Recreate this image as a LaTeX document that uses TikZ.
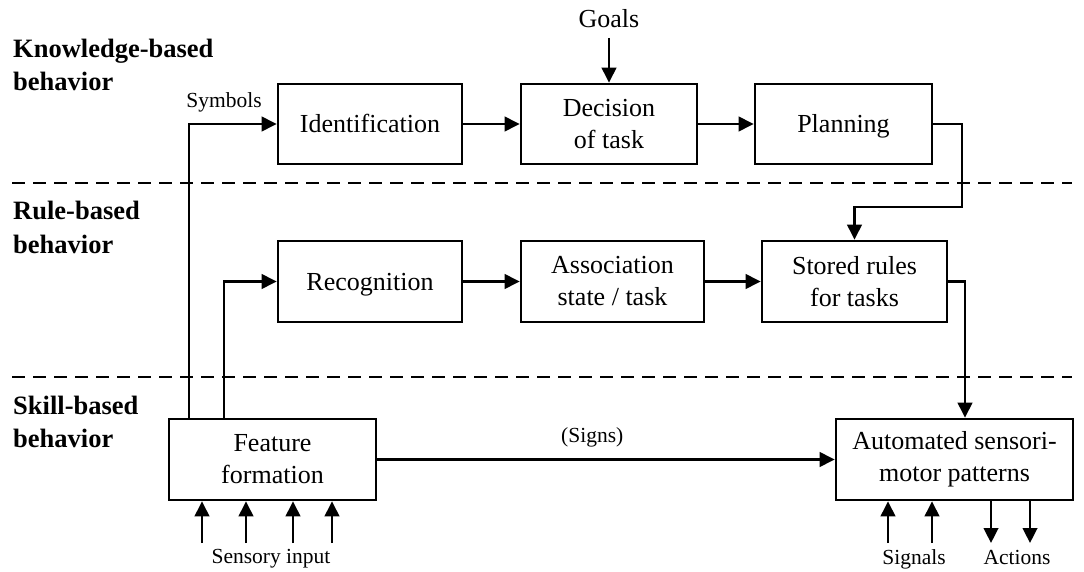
\documentclass[tikz,border=0pt]{standalone}
\usepackage{fontspec}
\setmainfont{Liberation Serif}
\usetikzlibrary{arrows.meta}

\tikzset{
  box/.style={draw, line width=2.7pt, rectangle, align=center, inner sep=0pt,
              font=\fontsize{26}{32}\selectfont},
  oneline/.style={text height=18pt, text depth=0pt},
  arr/.style={line width=2.6pt, -{Triangle[length=15pt,width=14.5pt]}},
  level/.style={font=\fontsize{26.5}{33}\selectfont\bfseries, align=left, anchor=base west, inner sep=0pt},
  small/.style={font=\fontsize{21.5}{26}\selectfont, inner sep=0pt, anchor=base},
  big/.style={font=\fontsize{26}{32}\selectfont, inner sep=0pt, anchor=base},
  sep/.style={line width=2.5pt, dash pattern=on 13pt off 8pt},
}

\begin{document}
\begin{tikzpicture}[x=1pt,y=-1pt]
\useasboundingbox (0,0) rectangle (1084,572);

% layer separators
\coordinate (sepAl) at (12,183);  \coordinate (sepAr) at (1072,183);
\coordinate (sepBl) at (12,377);  \coordinate (sepBr) at (1072,377);
\draw[sep] (sepAl) -- (sepAr);
\draw[sep] (sepBl) -- (sepBr);

% layer titles (anchored at the baseline of the second line)
\node[level] (lk) at (13,91) {Knowledge-based\\behavior};
\node[level] (lr) at (13,253) {Rule-based\\behavior};
\node[level] (ls) at (13,447) {Skill-based\\behavior};

% knowledge-based layer
\node[box, oneline, minimum width=184pt, minimum height=80pt] (ident) at (370,124) {Identification};
\node[box, minimum width=176pt, minimum height=80pt] (decis) at (609,124) {Decision\\of task};
\node[box, oneline, minimum width=177pt, minimum height=80pt] (plan)  at (843.5,124) {Planning};

% rule-based layer
\node[box, oneline, minimum width=184pt, minimum height=81pt] (recog)  at (370,281.5) {Recognition};
\node[box, minimum width=183pt, minimum height=81pt] (assoc)  at (612.5,281.5) {Association\\state / task};
\node[box, minimum width=185pt, minimum height=81pt] (stored) at (854.5,281.5) {Stored rules\\for tasks};

% skill-based layer
\node[box, minimum width=207pt, minimum height=81pt] (feat) at (272.5,459.5) {Feature\\formation};
\node[box, minimum width=237pt, minimum height=81pt] (auto) at (954.5,459.5) {Automated sensori-\\motor patterns};

% goals
\node[big] (goals) at (609,28) {Goals};
\coordinate (goalsEnd) at (609,38);
\draw[arr] (goalsEnd) -- (decis.north);

% top row flow
\draw[arr] (ident) -- (decis);
\draw[arr] (decis) -- (plan);
\draw[arr] (plan.east) -| (962,207) -| (stored.north);

% middle row flow
\draw[arr] (recog) -- (assoc);
\draw[arr] (assoc) -- (stored);
\draw[arr] (stored.east) -| ([xshift=10.5pt]auto.north);

% feature formation outputs
\draw[arr] ([xshift=-83.5pt]feat.north) |- (ident.west);
\node[small] (symb) at (224,108) {Symbols};
\draw[arr] ([xshift=-48.5pt]feat.north) |- (recog.west);
\draw[arr] (feat.east) -- node[small, pos=0.47, anchor=base, yshift=17pt] (signs) {(Signs)} (auto.west);

% sensory input
\foreach \x [count=\i] in {202,246,293,332}{
  \coordinate (sin\i) at (\x,543);
  \draw[arr] (sin\i) -- (sin\i |- feat.south);
}
\node[small] (sens) at (271,563) {Sensory input};

% signals and actions
\foreach \x [count=\i] in {888,932}{
  \coordinate (sig\i) at (\x,543);
  \draw[arr] (sig\i) -- (sig\i |- auto.south);
}
\foreach \x [count=\i] in {991,1030}{
  \coordinate (act\i) at (\x,543);
  \draw[arr] (act\i |- auto.south) -- (act\i);
}
\node[small] (signals) at (914,564) {Signals};
\node[small] (actions) at (1017,564) {Actions};
\end{tikzpicture}
\end{document}
